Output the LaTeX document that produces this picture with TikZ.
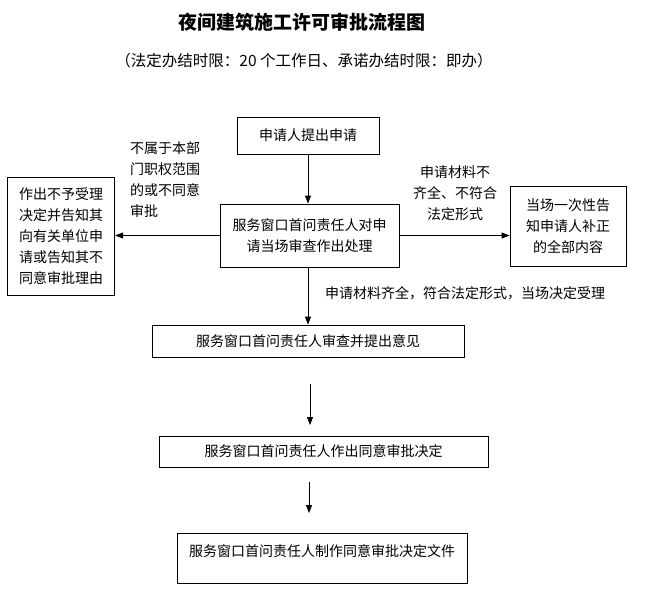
\documentclass[tikz,border=0pt]{standalone}
\usepackage{fontspec}
\usepackage{xcolor}
\usepackage{tikz}
\usetikzlibrary{calc,arrows.meta}
\newfontfamily\cjk{Noto Sans CJK SC}
\definecolor{ink}{HTML}{000000}
\tikzset{
  line/.style={draw=ink, line width=0.8pt},
  arr/.style={line, -{Triangle[length=8pt,width=6pt]}},
  box/.style={draw=ink, line width=0.8pt, inner sep=0pt, align=center,
    font=\cjk\fontsize{14pt}{21pt}\selectfont},
  lbl/.style={text=ink, inner sep=0pt, font=\cjk\fontsize{14pt}{21pt}\selectfont},
  ttl/.style={text=ink, inner sep=0pt, font=\cjk\bfseries\fontsize{19pt}{22pt}\selectfont}
}
\begin{document}
\begin{tikzpicture}[x=1pt, y=-1pt]
  \useasboundingbox (0,0) rectangle (647,600);

  \node[ttl] (title) at (302,22) {夜间建筑施工许可审批流程图};
  \node[lbl, font=\cjk\fontsize{15.5pt}{18pt}\selectfont] (limit) at (304,61)
    {（法定办结时限：20 个工作日、承诺办结时限：即办）};

  \node[box, minimum width=142, minimum height=37] (apply) at (308,135.5) {申请人提出申请};
  \node[box, minimum width=179, minimum height=63] (check) at (309.5,235.5)
    {服务窗口首问责任人对申\\请当场审查作出处理};
  \node[box, minimum width=107.5, minimum height=118, align=left] (refuse) at (61,236)
    {作出不予受理\\决定并告知其\\向有关单位申\\请或告知其不\\同意审批理由};
  \node[box, minimum width=116, minimum height=80] (notice) at (568,226)
    {当场一次性告\\知申请人补正\\的全部内容};
  \node[box, minimum width=312, minimum height=32] (review) at (308,341)
    {服务窗口首问责任人审查并提出意见};
  \node[box, minimum width=329, minimum height=31] (decide) at (323.5,451.5)
    {服务窗口首问责任人作出同意审批决定};
  \node[box, minimum width=290, minimum height=50, text depth=14pt] (issue) at (322,558)
    {服务窗口首问责任人制作同意审批决定文件};

  \node[lbl, align=left, anchor=west] (nolbl) at (130,180)
    {不属于本部\\门职权范围\\的或不同意\\审批};
  \node[lbl, align=center] (misslbl) at (455,193)
    {申请材料不\\齐全、不符合\\法定形式};
  \node[lbl, anchor=west] (oklbl) at (325,293)
    {申请材料齐全，符合法定形式，当场决定受理};

  \draw[arr] (apply.south) -- (apply.south |- check.north);
  \draw[arr] (check.west) -- (refuse.east |- check.west);
  \draw[arr] (check.east) -- (notice.west |- check.east);
  \draw[arr] (check.south -| apply.south) -- (apply.south |- review.north);

  \coordinate (a1) at (310,384);
  \coordinate (a2) at (310,425);
  \coordinate (b1) at (309,482);
  \coordinate (b2) at (309,513);
  \draw[arr] (a1) -- (a2);
  \draw[arr] (b1) -- (b2);
\end{tikzpicture}
\end{document}
